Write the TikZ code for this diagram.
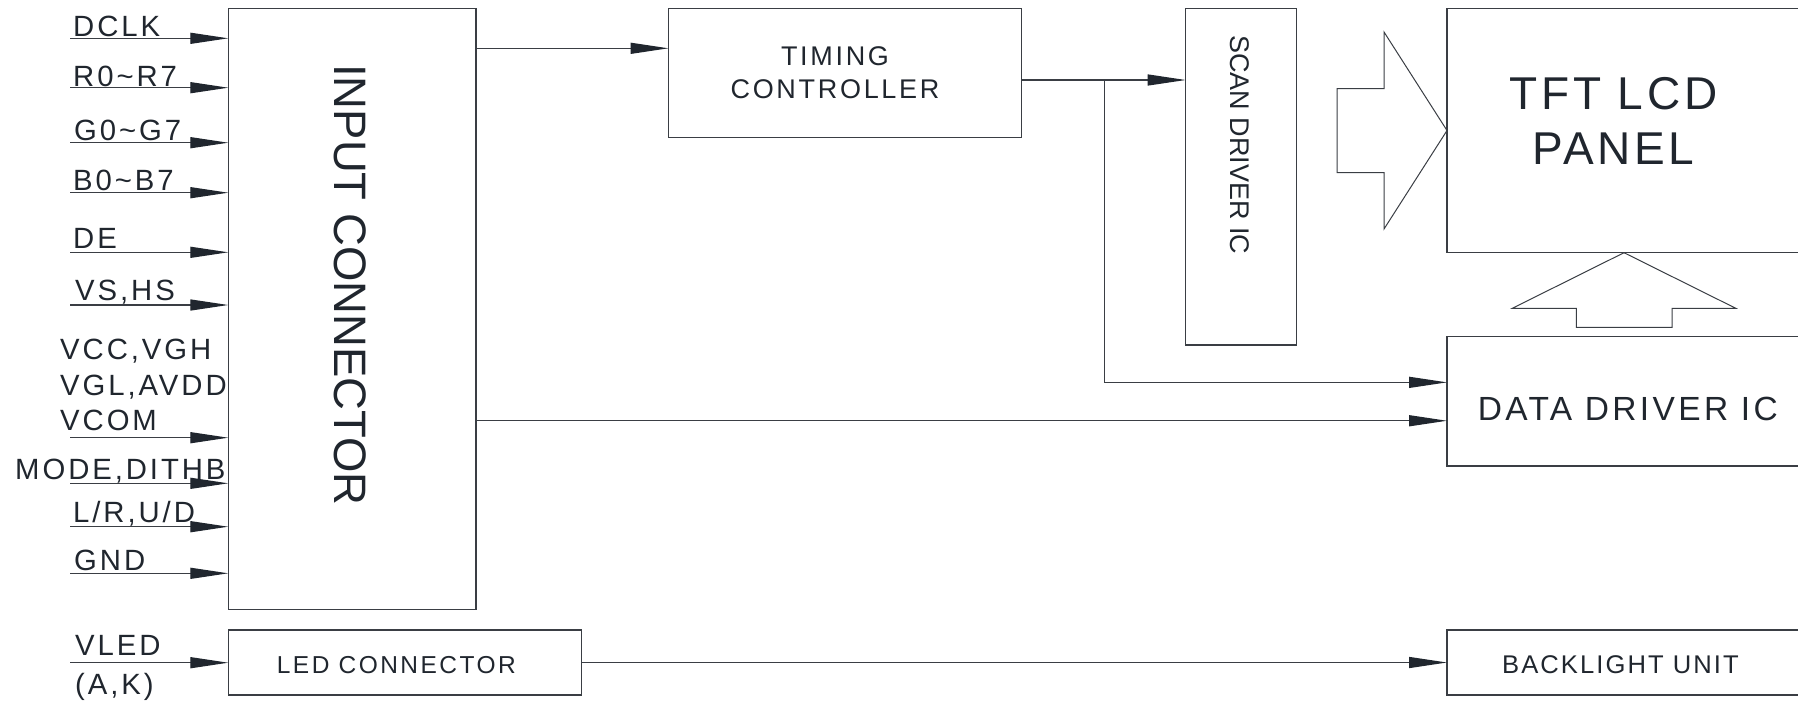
\documentclass[tikz,border=0pt]{standalone}
\usepackage{fontspec}
\usepackage{tikz}
\usetikzlibrary{arrows.meta,calc}

\newfontfamily\sigfont[LetterSpace=10]{Liberation Sans}
\newfontfamily\boxfont[LetterSpace=8]{Liberation Sans}
\newfontfamily\vertfont{Liberation Sans}

\definecolor{ink}{RGB}{32,38,46}
\definecolor{wire}{RGB}{58,62,68}

\tikzset{
  blk/.style={draw=wire, line width=1.3pt, rectangle, inner sep=0pt, outer sep=0pt},
  sig/.style={draw=wire, line width=1.3pt, -{Triangle[length=38pt,width=11pt,color=ink]}},
  pin/.style={anchor=base west, inner sep=0pt, text=ink, font=\sigfont\fontsize{29.3}{35.7}\selectfont},
  txt/.style={inner sep=0pt, text=ink},
  fat/.style={draw=wire, line width=1pt, line join=miter},
}

\begin{document}
\begin{tikzpicture}[x=1pt,y=-1pt]
  \useasboundingbox (0,0) rectangle (1798,702);
  \clip (0,0) rectangle (1798,702);

  % blocks
  \node[blk, minimum width=247.7pt, minimum height=601pt] (inconn) at (352.15,308.8) {};
  \node[blk, minimum width=352.8pt, minimum height=129pt] (tcon) at (844.9,72.8) {};
  \node[blk, minimum width=111pt, minimum height=336.7pt] (scan) at (1241.2,176.65) {};
  \node[blk, minimum width=383pt, minimum height=244.4pt] (panel) at (1638.5,130.5) {};
  \node[blk, minimum width=383pt, minimum height=129.3pt] (ddrv) at (1638.5,401.35) {};
  \node[blk, minimum width=383pt, minimum height=65pt] (blu) at (1638.5,662.5) {};
  \node[blk, minimum width=353pt, minimum height=65pt] (ledconn) at (404.8,662.5) {};

  % block texts
  \node[txt, rotate=-90, font=\vertfont\fontsize{45.5}{50}\selectfont] (inconn-txt) at (350,285) {INPUT CONNECTOR};
  \node[txt, rotate=-90, font=\vertfont\fontsize{27}{30}\selectfont] (scan-txt) at (1239.7,145) {SCAN DRIVER IC};
  \node[txt, align=center, font=\sigfont\fontsize{27}{33.3}\selectfont] (tcon-txt) at (835,73) {TIMING\\CONTROLLER};
  \node[txt, align=center, font=\boxfont\fontsize{46}{55}\selectfont] (panel-txt) at (1613.5,121.2) {TFT LCD\\PANEL};
  \node[txt, anchor=base west, font=\sigfont\fontsize{33.5}{36}\selectfont] (ddrv-txt) at (1477.6,420) {DATA DRIVER IC};
  \node[txt, anchor=base west, font=\boxfont\fontsize{25.6}{28}\selectfont] (blu-txt) at (1502,673.3) {BACKLIGHT UNIT};
  \node[txt, anchor=base west, font=\sigfont\fontsize{24.5}{28}\selectfont] (led-txt) at (276.7,673.3) {LED CONNECTOR};

  % input pins
  \foreach \yy/\tx/\lx/\bl [count=\i] in {38.3/DCLK/73/36, 87.7/R0\textasciitilde R7/73/86,
      142.7/G0\textasciitilde G7/74/140.7, 192.7/B0\textasciitilde B7/73/190.7, 252.3/DE/73/248.3,
      305/{VS,HS}/75/300, 437.7/VCOM/60/430.7, 483.3/{MODE,DITHB}/15/479,
      526.7/{L/R,U/D}/73/522.7, 573.3/GND/74/570.7} {
    \coordinate (in\i) at (70,\yy);
    \draw[sig] (in\i) -- (in\i -| inconn.west);
    \node[pin] (lbl\i) at (\lx,\bl) {\tx};
  }
  \node[pin] (vcc) at (60,359.3) {VCC,VGH};
  \node[pin] (vgl) at (60,395) {VGL,AVDD};

  % led pins
  \coordinate (led-in) at (70,662.7);
  \draw[sig] (led-in) -- (led-in -| ledconn.west);
  \node[pin] (vled) at (75,655) {VLED};
  \node[pin] (ak) at (75,694) {(A,K)};

  % connections
  \coordinate (tcon-in) at ($(tcon.north west)+(0,40)$);
  \draw[sig] (inconn.east |- tcon-in) -- (tcon-in);
  \coordinate (scan-in) at ($(scan.north west)+(0,71.7)$);
  \draw[sig] (tcon.east |- scan-in) -- (scan-in);
  \coordinate (tap) at ($(tcon.east |- scan-in)+(83.2,0)$);
  \draw[sig] (tap) |- ($(ddrv.west)+(0,-19)$);
  \coordinate (ddrv-lo) at ($(ddrv.west)+(0,19.4)$);
  \draw[sig] (inconn.east |- ddrv-lo) -- (ddrv-lo);
  \draw[sig] (ledconn) -- (blu);

  % hollow arrows to the panel
  \draw[fat] (panel.west) -- ++(-63,-98.5) -- ++(0,56.5) -- ++(-47,0) -- ++(0,84)
    -- ++(47,0) -- ++(0,56.5) -- cycle;
  \draw[fat] ($(panel.south west)+(177,0)$) -- ++(-111.7,55.6) -- ++(64.1,0) -- ++(0,19)
    -- ++(95.6,0) -- ++(0,-19) -- ++(63.8,0) -- cycle;
\end{tikzpicture}
\end{document}
